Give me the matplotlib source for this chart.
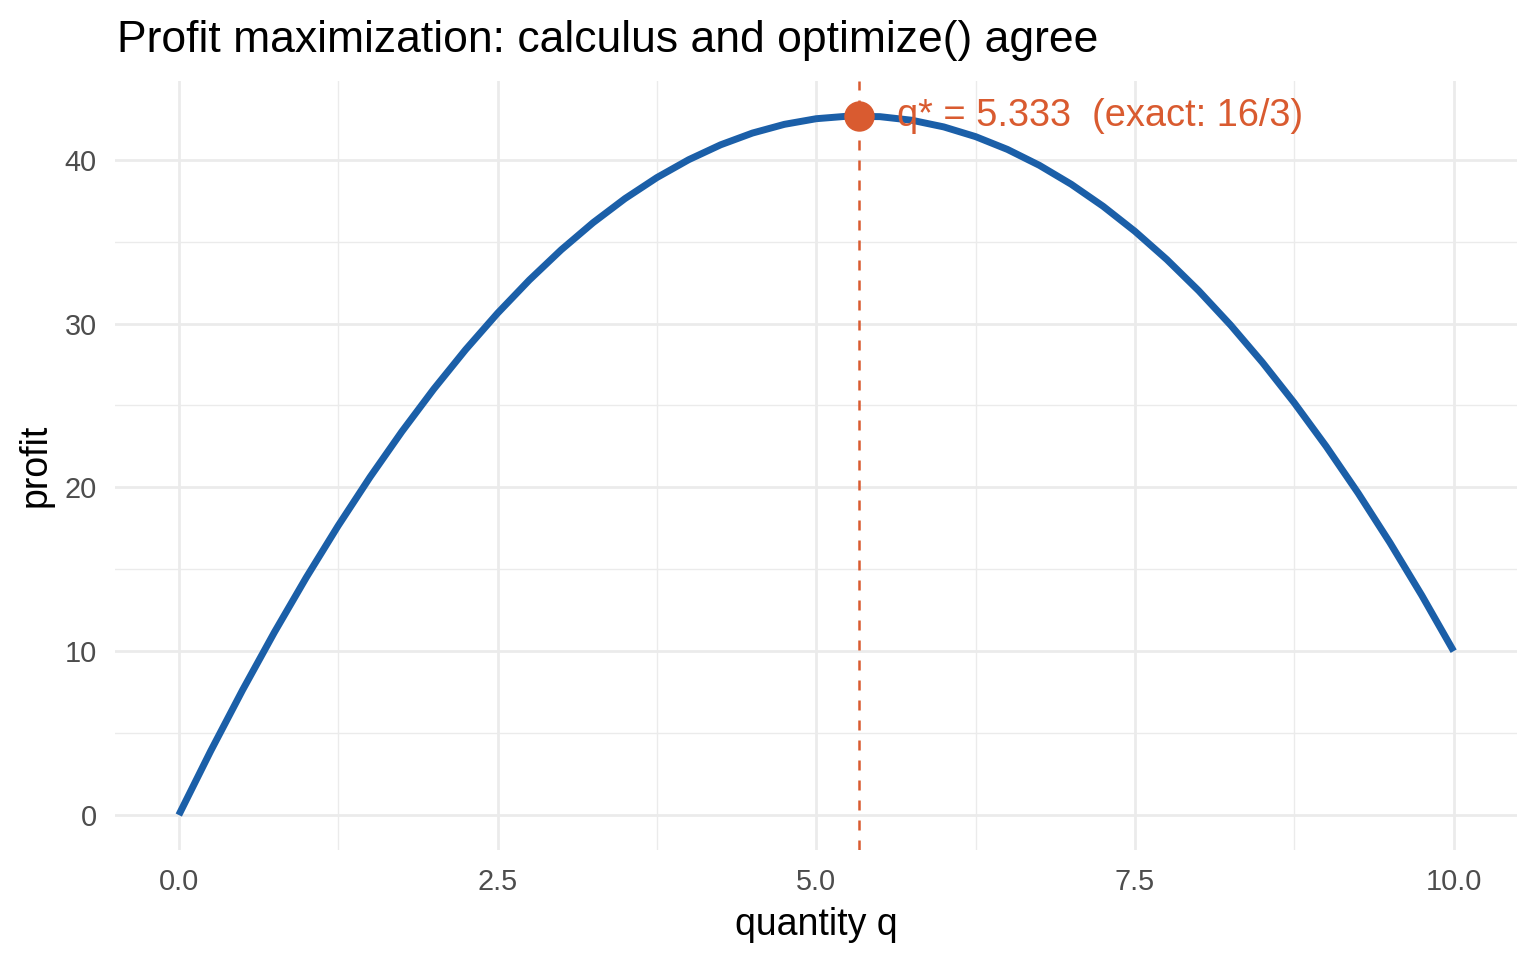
import matplotlib
matplotlib.use("Agg")
from matplotlib import pyplot as plt
from matplotlib.ticker import MultipleLocator
import numpy as np

# profit curve (q step 0.25)
q = np.arange(0, 10.01, 0.25)
profit = [0.000, 3.906, 7.625, 11.156, 14.500, 17.656, 20.625, 23.406,
          26.000, 28.406, 30.625, 32.656, 34.500, 36.156, 37.625, 38.906,
          40.000, 40.906, 41.625, 42.156, 42.500, 42.656, 42.625, 42.406,
          42.000, 41.406, 40.625, 39.656, 38.500, 37.156, 35.625, 33.906,
          32.000, 29.906, 27.625, 25.156, 22.500, 19.656, 16.625, 13.406,
          10.000]
q_star = 5.333
profit_star = 42.667
label = "q* = 5.333  (exact: 16/3)"

blue = "#1b5fa8"
orange = "#d95b30"
grid_c = "#ebebeb"

plt.rcParams['font.family'] = ['Liberation Sans', 'DejaVu Sans']

fig = plt.figure(figsize=(7.68, 4.8), dpi=200)
ax = fig.add_axes([0.0749, 0.1146, 0.913, 0.801])

ax.plot(q, profit, color=blue, lw=2.5, solid_capstyle='butt',
        solid_joinstyle='round', zorder=3)
ax.axvline(q_star, color=orange, lw=0.9, ls=(0, (4, 4)), zorder=2)
ax.scatter([q_star], [profit_star], s=120, color=orange, zorder=4, linewidths=0)
ax.text(q_star + 0.3, profit_star, label, color=orange, fontsize=13.7,
        ha='left', va='center', zorder=5)

ax.set_xlim(-0.5, 10.5)
ax.set_ylim(-2.133, 44.8)
ax.xaxis.set_minor_locator(MultipleLocator(1.25))
ax.yaxis.set_major_locator(MultipleLocator(10))
ax.yaxis.set_minor_locator(MultipleLocator(5))
ax.set_xticks([0, 2.5, 5, 7.5, 10])
ax.set_xticklabels(["0.0", "2.5", "5.0", "7.5", "10.0"])

ax.grid(which='major', color=grid_c, lw=1.0, zorder=0)
ax.grid(which='minor', color=grid_c, lw=0.5, zorder=0)
ax.set_axisbelow(True)
for s in ax.spines.values():
    s.set_visible(False)
ax.tick_params(which='both', length=0)
ax.tick_params(labelsize=10.4, labelcolor="#4d4d4d")
ax.tick_params(axis='x', pad=6.5)
ax.tick_params(axis='y', pad=6.5)

ax.set_xlabel("quantity q", fontsize=13.5, labelpad=4)
ax.set_ylabel("profit", fontsize=13.5, labelpad=4)
fig.text(0.0762, 0.958, "Profit maximization: calculus and optimize() agree",
         fontsize=16, ha='left', va='center')

fig.savefig("out.png", dpi=200)
